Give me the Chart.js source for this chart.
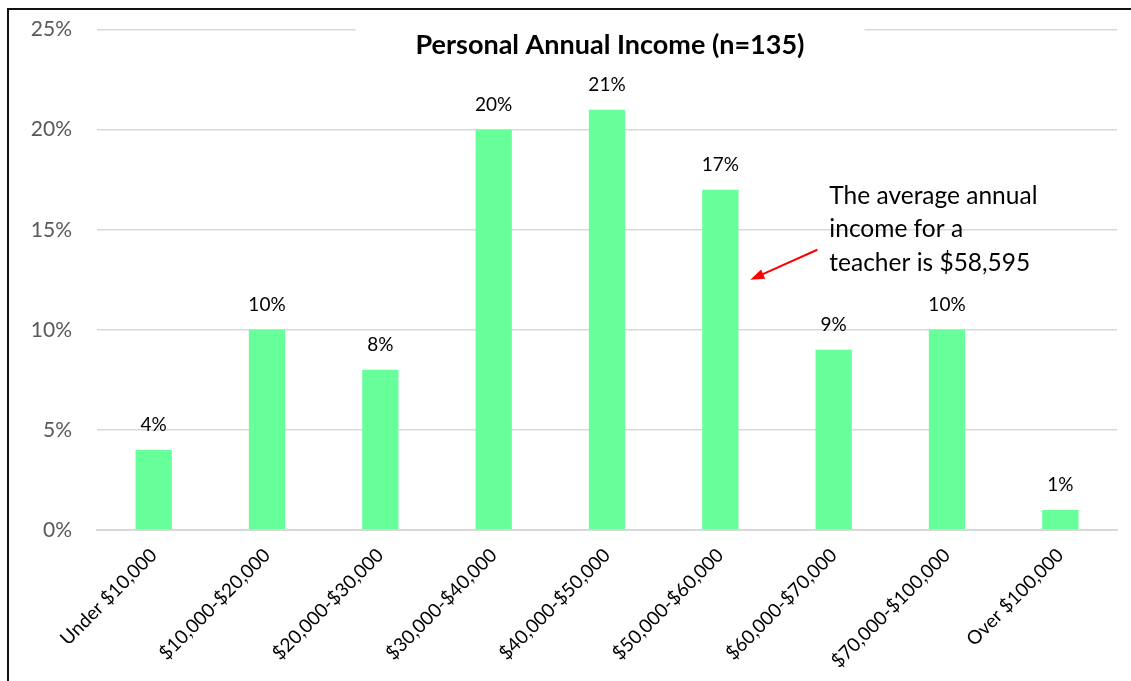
<!DOCTYPE html>
<html>
<head>
<meta charset="utf-8">
<script src="https://cdn.jsdelivr.net/npm/chart.js@4.4.1/dist/chart.umd.min.js"></script>
<style>
  html, body { margin: 0; padding: 0; background: #fff; overflow: hidden; }
  #frame { position: absolute; left: 7px; top: 8px; width: 1200px; height: 800px; border: 2px solid #111; }
  #wrap { position: absolute; left: 0; top: -8px; width: 1131px; height: 689px; }
</style>
</head>
<body>
<div id="frame"></div>
<div id="wrap"><canvas id="mycanvas" width="1131" height="689"></canvas></div>
<script>
var categories = ['Under $10,000', '$10,000-$20,000', '$20,000-$30,000', '$30,000-$40,000',
  '$40,000-$50,000', '$50,000-$60,000', '$60,000-$70,000', '$70,000-$100,000', 'Over $100,000'];
var percents = [4, 10, 8, 20, 21, 17, 9, 10, 1];
var yTicks = [0, 5, 10, 15, 20, 25];
var chartTitle = 'Personal Annual Income (n=135)';
var noteLines = ['The average annual', 'income for a', 'teacher is $58,595'];

var fontName = 'Lato, "Open Sans", sans-serif';

// value labels, title and the note with its arrow
var extras = {
	id: 'extras',
	afterDatasetsDraw: function(chart) {
		var c = chart.ctx;
		var xs = chart.scales.x, ys = chart.scales.y;
		var meta = chart.getDatasetMeta(0);
		c.save();
		c.fillStyle = '#000';
		c.font = '19px ' + fontName;
		c.textAlign = 'center';
		c.textBaseline = 'middle';
		meta.data.forEach(function(bar, i) {
			c.fillText(percents[i] + '%', bar.x, bar.y - 25);
		});

		// title sits over the top gridline
		c.font = 'bold 27px ' + fontName;
		var tw = c.measureText(chartTitle).width;
		var tx = (chart.chartArea.left + chart.chartArea.right) / 2 + 3;
		var ty = chart.chartArea.top + 16;
		c.fillStyle = '#fff';
		c.fillRect(tx - tw / 2 - 60, chart.chartArea.top - 4, tw + 120, 40);
		c.fillStyle = '#000';
		c.fillText(chartTitle, tx, ty);

		// note
		var nx = xs.getPixelForValue(5) + 109;
		c.font = '24.5px ' + fontName;
		c.textAlign = 'left';
		noteLines.forEach(function(t, i) {
			c.fillText(t, nx, ys.getPixelForValue(16.7) + i * 33.5);
		});

		// arrow
		var x1 = xs.getPixelForValue(5) + 97, y1 = ys.getPixelForValue(14);
		var x2 = xs.getPixelForValue(5) + 30, y2 = ys.getPixelForValue(12.5);
		c.strokeStyle = '#ff0000';
		c.fillStyle = '#ff0000';
		c.lineWidth = 2;
		var ang = Math.atan2(y2 - y1, x2 - x1);
		c.beginPath();
		c.moveTo(x1, y1);
		c.lineTo(x2 - 10 * Math.cos(ang), y2 - 10 * Math.sin(ang));
		c.stroke();
		c.beginPath();
		c.moveTo(x2, y2);
		c.lineTo(x2 - 14 * Math.cos(ang) + 5 * Math.sin(ang), y2 - 14 * Math.sin(ang) - 5 * Math.cos(ang));
		c.lineTo(x2 - 14 * Math.cos(ang) - 5 * Math.sin(ang), y2 - 14 * Math.sin(ang) + 5 * Math.cos(ang));
		c.closePath();
		c.fill();
		c.restore();
	}
};

var chartdata = {
	labels: categories,
	datasets: [{
		label: 'Percent',
		backgroundColor: '#66ff99',
		data: percents,
		categoryPercentage: 1,
		barPercentage: 0.32
	}]
};

new Chart(document.getElementById('mycanvas'), {
	type: 'bar',
	data: chartdata,
	plugins: [extras],
	options: {
		responsive: false,
		animation: false,
		layout: { padding: { top: 15, right: 14, left: 0, bottom: 0 } },
		plugins: { legend: { display: false }, tooltip: { enabled: false }, title: { display: false } },
		scales: {
			x: {
				grid: { display: false },
				border: { color: '#d9d9d9', width: 2 },
				ticks: {
					color: '#000',
					font: { family: fontName, size: 19 },
					minRotation: 45,
					maxRotation: 45,
					autoSkip: false,
					padding: 6
				},
				afterFit: function(s) { s.height = 151; }
			},
			y: {
				min: 0,
				max: 25,
				afterBuildTicks: function(s) {
					s.ticks = yTicks.map(function(v) { return { value: v }; });
				},
				grid: { color: '#d9d9d9', lineWidth: 1.5, drawTicks: false },
				border: { display: false },
				ticks: {
					color: '#595959',
					font: { family: fontName, size: 21 },
					padding: 25,
					callback: function(v) { return v + '%'; }
				},
				afterFit: function(s) { s.width = 97; }
			}
		}
	}
});
</script>
</body>
</html>
